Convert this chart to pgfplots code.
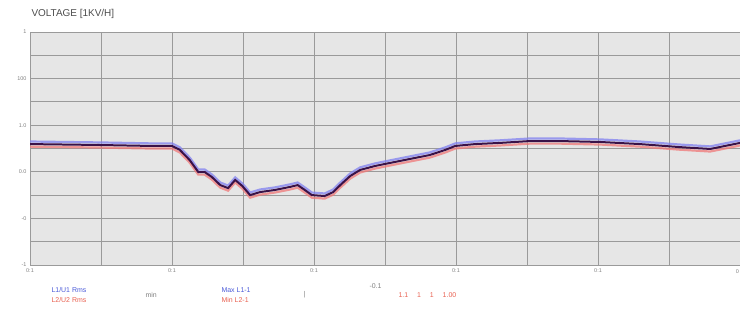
\documentclass[border=0pt]{standalone}
\usepackage{pgfplots}
\pgfplotsset{compat=1.18}
\usepackage{fontspec}
\setmainfont{Liberation Sans}
\definecolor{bg}{HTML}{E6E6E6}
\definecolor{grd}{HTML}{9A9A9A}
\definecolor{dk}{HTML}{3A1248}
\definecolor{bl}{HTML}{8080F0}
\definecolor{rd}{HTML}{F07878}
\definecolor{lb}{HTML}{4A5AD8}
\definecolor{lr}{HTML}{E86050}
\begin{document}
\begin{tikzpicture}[x=1bp,y=1bp]
\useasboundingbox (0,0) rectangle (740,319);
\begin{axis}[
  at={(30bp,54bp)}, anchor=south west,
  scale only axis, width=710bp, height=233bp,
  xmin=0, xmax=10, ymin=0, ymax=10,
  axis background/.style={fill=bg},
  axis line style={grd},
  xtick={0,1,...,10}, ytick={0,1,...,10},
  xticklabels={0:1,,0:1,,0:1,,0:1,,0:1,,},
  yticklabels={-1,,-0,,0.0,,1.0,,100,,1},
  tick style={draw=none},
  ticklabel style={font=\fontsize{5.5}{6}\selectfont, text=gray},
  grid=major, major grid style={grd, line width=0.9pt},
  /pgf/number format/assume math mode=true,
  clip=true,
]
\addplot[bl, line width=2.2pt, opacity=0.75] coordinates {
(0,5.30)(0.99,5.26)(1.69,5.22)(2.0,5.22)(2.11,5.05)(2.25,4.61)(2.37,4.10)(2.46,4.10)(2.56,3.89)(2.68,3.54)(2.79,3.41)(2.89,3.76)(2.99,3.50)(3.10,3.11)(3.24,3.24)(3.45,3.33)(3.66,3.46)(3.77,3.54)(3.87,3.33)(3.97,3.11)(4.15,3.07)(4.27,3.24)(4.37,3.54)(4.51,3.93)(4.65,4.19)(4.86,4.36)(5.07,4.49)(5.35,4.66)(5.63,4.83)(5.85,5.05)(5.99,5.22)(6.27,5.30)(6.62,5.35)(7.04,5.43)(7.46,5.43)(8.03,5.39)(8.59,5.30)(9.15,5.17)(9.58,5.09)(9.79,5.22)(10,5.35)};
\addplot[rd, line width=2.2pt, opacity=0.75] coordinates {
(0,5.08)(0.99,5.04)(1.69,5.00)(2.0,5.00)(2.11,4.83)(2.25,4.39)(2.37,3.88)(2.46,3.88)(2.56,3.67)(2.68,3.32)(2.79,3.19)(2.89,3.54)(2.99,3.28)(3.10,2.89)(3.24,3.02)(3.45,3.11)(3.66,3.24)(3.77,3.32)(3.87,3.11)(3.97,2.89)(4.15,2.85)(4.27,3.02)(4.37,3.32)(4.51,3.71)(4.65,3.97)(4.86,4.14)(5.07,4.27)(5.35,4.44)(5.63,4.61)(5.85,4.83)(5.99,5.00)(6.27,5.08)(6.62,5.13)(7.04,5.21)(7.46,5.21)(8.03,5.17)(8.59,5.08)(9.15,4.95)(9.58,4.87)(9.79,5.00)(10,5.13)};
\addplot[dk, line width=2pt] coordinates {
(0,5.19)(0.99,5.15)(1.69,5.11)(2.0,5.11)(2.11,4.94)(2.25,4.5)(2.37,3.99)(2.46,3.99)(2.56,3.78)(2.68,3.43)(2.79,3.3)(2.89,3.65)(2.99,3.39)(3.10,3.0)(3.24,3.13)(3.45,3.22)(3.66,3.35)(3.77,3.43)(3.87,3.22)(3.97,3.0)(4.15,2.96)(4.27,3.13)(4.37,3.43)(4.51,3.82)(4.65,4.08)(4.86,4.25)(5.07,4.38)(5.35,4.55)(5.63,4.72)(5.85,4.94)(5.99,5.11)(6.27,5.19)(6.62,5.24)(7.04,5.32)(7.46,5.32)(8.03,5.28)(8.59,5.19)(9.15,5.06)(9.58,4.98)(9.79,5.11)(10,5.24)};
\end{axis}
\node[anchor=north east, inner sep=1pt, text=gray, font=\fontsize{5.5}{6}\selectfont] at (740,51) {0};
\node[anchor=west, text=black!70, font=\fontsize{10}{11}\selectfont] at (28,305) {VOLTAGE [1KV/H]};
\begin{scope}[font=\fontsize{7}{8}\selectfont]
\node[anchor=west, text=lb] at (48,29) {L1/U1 Rms};
\node[anchor=west, text=lr] at (48,19) {L2/U2 Rms};
\node[anchor=west, text=gray] at (142,24) {min};
\node[anchor=west, text=lb] at (218,29) {Max L1-1};
\node[anchor=west, text=lr] at (218,19) {Min L2-1};
\node[anchor=west, text=gray] at (300,24) {|};
\node[anchor=west, text=gray] at (366,33) {-0.1};
\node[anchor=west, text=lr] at (395,24) {1.1 \quad 1 \quad 1 \quad 1.00};
\end{scope}
\end{tikzpicture}
\end{document}
